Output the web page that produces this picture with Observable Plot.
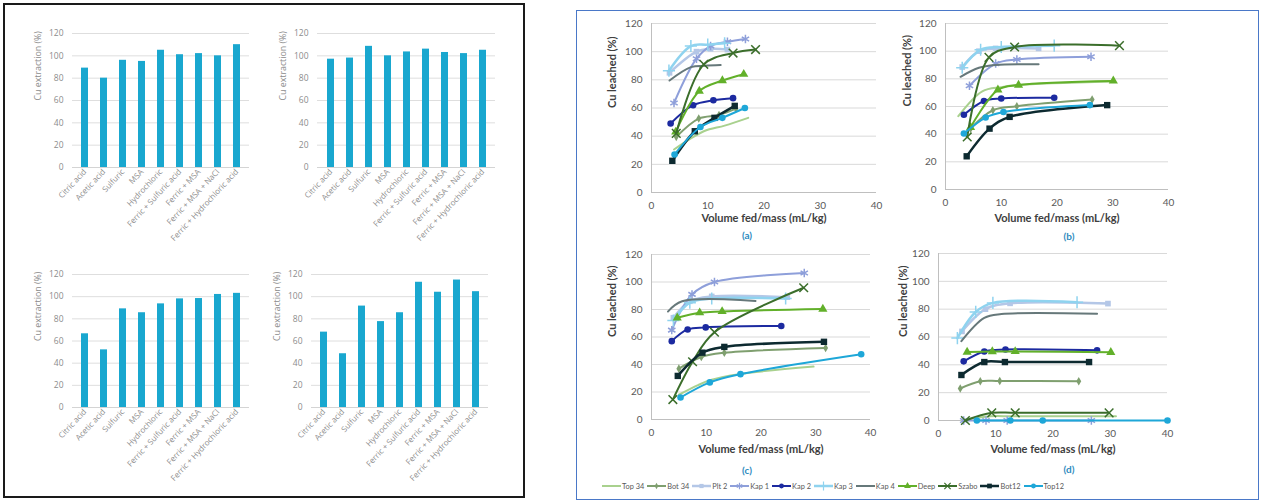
<!DOCTYPE html>
<html><head><meta charset="utf-8">
<script src="https://cdn.jsdelivr.net/npm/d3@7"></script>
<script src="https://cdn.jsdelivr.net/npm/@observablehq/plot@0.6"></script>
<style>
body{margin:0;background:#fff;}
#root{position:relative;width:1261px;height:502px;overflow:hidden;background:#fff;}
.abs{position:absolute;}
.sub{position:absolute;transform:translate(-50%,-50%);font:bold 10px Lato, sans-serif;color:#2e8bc0;}
#legend{position:absolute;left:602px;top:480px;height:12px;display:flex;align-items:center;font:7.4px Lato, sans-serif;color:#595959;white-space:nowrap;}
.leg{display:flex;align-items:center;margin-right:3px;}
</style></head>
<body><div id="root"></div>
<script>
// ---------- bar charts (left panel) ----------
const categories = ["Citric acid","Acetic acid","Sulfuric","MSA","Hydrochloric","Ferric + Sulfuric acid","Ferric + MSA","Ferric + MSA + NaCl","Ferric + Hydrochloric acid"];
const barsTL = [89, 80, 96, 95, 105, 101, 102, 100, 110];
const barsTR = [97, 98, 108.5, 100, 103.5, 106, 103, 102, 105];
const barsBL = [66.5, 52, 89, 85.5, 93.5, 98, 98.3, 102, 103];
const barsBR = [68, 48.5, 91.5, 77.5, 85.5, 113, 104, 115, 104.5];
const yTicks = [0, 20, 40, 60, 80, 100, 120];
const xTicks = [0, 10, 20, 30, 40];

// ---------- line charts (right panel) ----------
const seriesNames = ["Top 34","Bot 34","Plt 2","Kap 1","Kap 2","Kap 3","Kap 4","Deep","Szabo","Bot12","Top12"];

// panel (a)
const a_top34 = [[4,30.5],[9.3,43.5],[13,47.5],[17.2,53]];
const a_bot34 = [[4.4,39.5],[8.4,52.5],[12,55],[15,59.5]];
const a_plt2  = [[3.2,85],[8,100],[10.5,102],[13.5,101.5]];
const a_kap1  = [[4,63.5],[8,95],[10.5,104],[13.5,107],[16.7,109]];
const a_kap2  = [[3.4,49],[7.4,62],[11,65.5],[14.5,67]];
const a_kap3  = [[3.1,86.5],[7,104],[10,105],[13,106]];
const a_kap4  = [[3.2,79.5],[7,89],[9.5,90],[12.3,90.5]];
const a_deep  = [[4.3,43],[8.5,72],[12.6,79.5],[16.4,84]];
const a_szabo = [[4.4,42],[9.3,91],[14.5,99],[18.5,101.5]];
const a_bot12 = [[3.7,22.5],[7.7,43.5],[11.2,53],[14.8,61.5]];
const a_top12 = [[4.1,27],[8.7,46.5],[12.6,53],[16.6,60]];
// panel (b)
const b_top34 = [[2.3,53],[6.6,71],[10,74],[13,75.5],[30,78]];
const b_bot34 = [[4.5,44],[8.5,57.3],[12.8,60.2],[26.3,65]];
const b_plt2  = [[3,88.5],[6,100],[9,102],[16.7,102]];
const b_kap1  = [[4.3,75],[9,91],[12.8,94],[26.1,96]];
const b_kap2  = [[3.3,54],[6.9,64],[10,65.8],[19.5,66.3]];
const b_kap3  = [[3,88],[6.3,101],[10,103],[19.5,104]];
const b_kap4  = [[2.7,81.5],[6,88],[9,90],[16.7,90.5]];
const b_deep  = [[4.5,45],[9.4,72],[13.1,75.5],[30.1,78.5]];
const b_szabo = [[3.9,38],[7.8,95.5],[12.4,103],[31.2,104]];
const b_bot12 = [[3.8,24],[7.9,44],[11.5,52.5],[29,61]];
const b_top12 = [[3.3,40.5],[7.2,52],[10.4,56],[25.9,61]];
// panel (c)
const c_top34 = [[5,18],[8.5,25],[11,29],[16,33],[29.6,38.5]];
const c_bot34 = [[5,37],[9.1,45.5],[13.3,48.5],[31.8,52]];
const c_plt2  = [[4,74],[7,86],[11,89.5],[24.8,89]];
const c_kap1  = [[3.7,65],[7.4,91],[11.5,100],[27.9,106.5]];
const c_kap2  = [[3.7,57],[6.6,65.5],[9.9,67],[23.7,68]];
const c_kap3  = [[4,72],[7,85],[11,88],[24.5,88]];
const c_kap4  = [[3,78.5],[5.6,86],[19,86.2]];
const c_deep  = [[4.7,74],[8.8,77.7],[12.9,78.6],[31.3,80.3]];
const c_szabo = [[3.9,14.5],[7.5,42],[11.5,63.5],[27.8,95.8]];
const c_bot12 = [[4.8,31.7],[9.3,48.6],[13.3,52.8],[31.5,56.5]];
const c_top12 = [[5.3,16],[10.65,27],[16.25,33],[38.3,47.5]];
// panel (d)
const d_top34 = [[4.5,0.5],[9,3],[13,3],[31,3]];
const d_bot34 = [[3.8,23],[7.3,28.2],[10.7,28.4],[24.5,28.2]];
const d_plt2  = [[4.1,64],[8.2,80],[12.5,84.2],[29.6,84]];
const d_kap1  = [[4.4,0],[8.3,0],[12,0],[26.7,0]];
const d_kap2  = [[4.4,42.5],[8,49.6],[11.7,51],[27.7,50.4]];
const d_kap3  = [[3.3,59.2],[6.5,78],[9.5,84.5],[24.2,85]];
const d_kap4  = [[4,57],[8,73.7],[11,76.5],[27.7,76.7]];
const d_deep  = [[5,49.2],[9.4,49.5],[13.4,49.6],[30.1,49]];
const d_szabo = [[4.7,0],[9.3,5.5],[13.4,5.5],[29.8,5.5]];
const d_bot12 = [[4,32.7],[8,42],[11.6,42],[26.3,42]];
const d_top12 = [[6.7,0],[12.55,0],[18.2,0],[40,0]];

const panelA = [a_top34,a_bot34,a_plt2,a_kap1,a_kap2,a_kap3,a_kap4,a_deep,a_szabo,a_bot12,a_top12];
const panelB = [b_top34,b_bot34,b_plt2,b_kap1,b_kap2,b_kap3,b_kap4,b_deep,b_szabo,b_bot12,b_top12];
const panelC = [c_top34,c_bot34,c_plt2,c_kap1,c_kap2,c_kap3,c_kap4,c_deep,c_szabo,c_bot12,c_top12];
const panelD = [d_top34,d_bot34,d_plt2,d_kap1,d_kap2,d_kap3,d_kap4,d_deep,d_szabo,d_bot12,d_top12];

// styles (separate from data)
const seriesStyles = [
  {color:"#a9d18e", width:2,   symbol:null},
  {color:"#7f9f6f", width:2,   symbol:"diamond",  r:2.6, filled:true},
  {color:"#b4c7e7", width:2.5, symbol:"square",   r:3.2, filled:true},
  {color:"#8e9fda", width:2,   symbol:"asterisk", r:4,   filled:false},
  {color:"#1c2aa0", width:2,   symbol:"circle",   r:3.3, filled:true},
  {color:"#8fd3ef", width:2.5, symbol:"plus",     r:4,   filled:false},
  {color:"#66787a", width:2,   symbol:null},
  {color:"#62b02a", width:2,   symbol:"triangle", r:3.4, filled:true},
  {color:"#3b6e2b", width:2,   symbol:"times",    r:4,   filled:false},
  {color:"#0d2a30", width:2.5, symbol:"square",   r:3.6, filled:true},
  {color:"#1ea7d8", width:2,   symbol:"circle",   r:3.3, filled:true}
];

const root = document.getElementById("root");
function place(el, left, top){ el.classList.add("abs"); el.style.left = left+"px"; el.style.top = top+"px"; root.appendChild(el); return el; }
function box(left, top, w, h, border){ const d = document.createElement("div"); d.style.cssText = `position:absolute;left:${left}px;top:${top}px;width:${w}px;height:${h}px;border:${border};box-sizing:border-box;`; root.appendChild(d); }

box(3, 3, 522, 495, "2px solid #1a1a1a");
box(576, 10, 683, 490, "1.5px solid #4a78c8");

function barChart(values, o){
  const data = categories.map((c,i)=>({c, v: values[i]}));
  return Plot.plot({
    width:o.w, height:o.h, marginLeft:o.ml, marginRight:o.mr, marginTop:o.mt, marginBottom:o.mb,
    style:{fontFamily:"'Open Sans', sans-serif", fontSize:"8.5px", color:"#8c8c8c", background:"transparent", overflow:"visible"},
    x:{domain:categories, paddingInner:0.64, paddingOuter:0.32},
    y:{domain:[0,120]},
    marks:[
      Plot.gridY(yTicks.slice(1), {stroke:"#dedede", strokeOpacity:1}),
      Plot.ruleY([0], {stroke:"#d4d4d4"}),
      Plot.barY(data, {x:"c", y:"v", fill:"#19a7cf"}),
      Plot.axisY(yTicks, {tickSize:0, tickPadding:9, label:null}),
      Plot.axisX({tickSize:0, tickPadding:3, tickRotate:-47, label:null, fontSize:8}),
      Plot.text(["Cu extraction (%)"], {text:d=>d, frameAnchor:"left", dx:-34, rotate:-90, fontSize:8.8, fill:"#8c8c8c"})
    ]
  });
}

place(barChart(barsTL, {w:250,h:220,ml:62,mr:11,mt:13,mb:73}), 10, 20);
place(barChart(barsTR, {w:250,h:220,ml:47,mr:25,mt:13,mb:73}), 270, 20);
place(barChart(barsBL, {w:250,h:230,ml:62,mr:11,mt:14,mb:83}), 10, 260);
place(barChart(barsBR, {w:250,h:230,ml:41,mr:32,mt:14,mb:83}), 270, 260);

function lineChart(panel, o){
  const marks = [
    Plot.gridY(yTicks.slice(1), {stroke:"#d9d9d9", strokeOpacity:1}),
    Plot.ruleY([0], {stroke:"#bfbfbf"}),
    Plot.ruleX([0], {stroke:"#bfbfbf"})
  ];
  seriesNames.forEach((name, i) => {
    const st = seriesStyles[i];
    const pts = panel[i].map(([x,y]) => ({series:name, x, y}));
    marks.push(Plot.line(pts, {x:"x", y:"y", stroke:st.color, strokeWidth:st.width, curve:"catmull-rom"}));
    if (st.symbol) {
      marks.push(Plot.dot(pts, st.filled
        ? {x:"x", y:"y", symbol:st.symbol, r:st.r, fill:st.color, stroke:"none"}
        : {x:"x", y:"y", symbol:st.symbol, r:st.r, stroke:st.color, fill:"none", strokeWidth:1.5}));
    }
  });
  marks.push(
    Plot.axisY(yTicks, {tickSize:0, tickPadding:9, label:null}),
    Plot.axisX(xTicks, {tickSize:0, tickPadding:9, label:null}),
    Plot.text(["Volume fed/mass (mL/kg)"], {text:d=>d, frameAnchor:"bottom", dy:o.tdy, fontWeight:"bold", fontSize:11, fill:"#404040"}),
    Plot.text(["Cu leached (%)"], {text:d=>d, frameAnchor:"left", dx:-o.ydx, rotate:-90, fontWeight:"bold", fontSize:11, fill:"#404040"})
  );
  return Plot.plot({
    width:o.w, height:o.h, marginLeft:o.ml, marginRight:o.mr, marginTop:o.mt, marginBottom:o.mb,
    style:{fontFamily:"Lato, sans-serif", fontSize:"10px", color:"#595959", background:"transparent", overflow:"visible"},
    x:{domain:[0,40]}, y:{domain:[0,120]},
    marks
  });
}

place(lineChart(panelA, {w:300,h:225,ml:61,mr:14,mt:9,mb:47,tdy:29,ydx:39}), 590, 14);
place(lineChart(panelB, {w:300,h:225,ml:50,mr:27,mt:9,mb:50,tdy:32,ydx:38}), 895, 14);
place(lineChart(panelC, {w:300,h:225,ml:61,mr:20,mt:9,mb:51,tdy:33,ydx:39}), 590, 245);
place(lineChart(panelD, {w:300,h:225,ml:43,mr:28,mt:8,mb:50,tdy:32,ydx:35}), 895, 245);

const subLabels = ["(a)","(b)","(c)","(d)"];
const subPos = [[747,235],[1069,236],[747,470],[1069,469]];
subLabels.forEach((t,i)=>{ const d=document.createElement("div"); d.className="sub"; d.textContent=t; d.style.left=subPos[i][0]+"px"; d.style.top=subPos[i][1]+"px"; root.appendChild(d); });

// legend
const d3sym = {diamond:d3.symbolDiamond, square:d3.symbolSquare, asterisk:d3.symbolAsterisk, circle:d3.symbolCircle, plus:d3.symbolPlus, triangle:d3.symbolTriangle, times:d3.symbolTimes};
const legend = document.createElement("div");
legend.id = "legend";
root.appendChild(legend);
seriesNames.forEach((name,i)=>{
  const st = seriesStyles[i];
  const w = 19;
  const item = document.createElement("div");
  item.className = "leg";
  const svg = d3.create("svg").attr("width", w).attr("height", 10).style("margin-right","1px");
  svg.append("line").attr("x1",0).attr("x2",w).attr("y1",5).attr("y2",5).attr("stroke",st.color).attr("stroke-width",st.width);
  if (st.symbol) {
    const sz = Math.PI*st.r*st.r*0.55;
    svg.append("path").attr("transform",`translate(${w/2},5)`).attr("d", d3.symbol(d3sym[st.symbol], sz)())
      .attr("fill", st.filled ? st.color : "none").attr("stroke", st.filled ? "none" : st.color).attr("stroke-width",1.2);
  }
  item.appendChild(svg.node());
  const sp = document.createElement("span"); sp.textContent = name; item.appendChild(sp);
  legend.appendChild(item);
});
</script>
</body></html>
